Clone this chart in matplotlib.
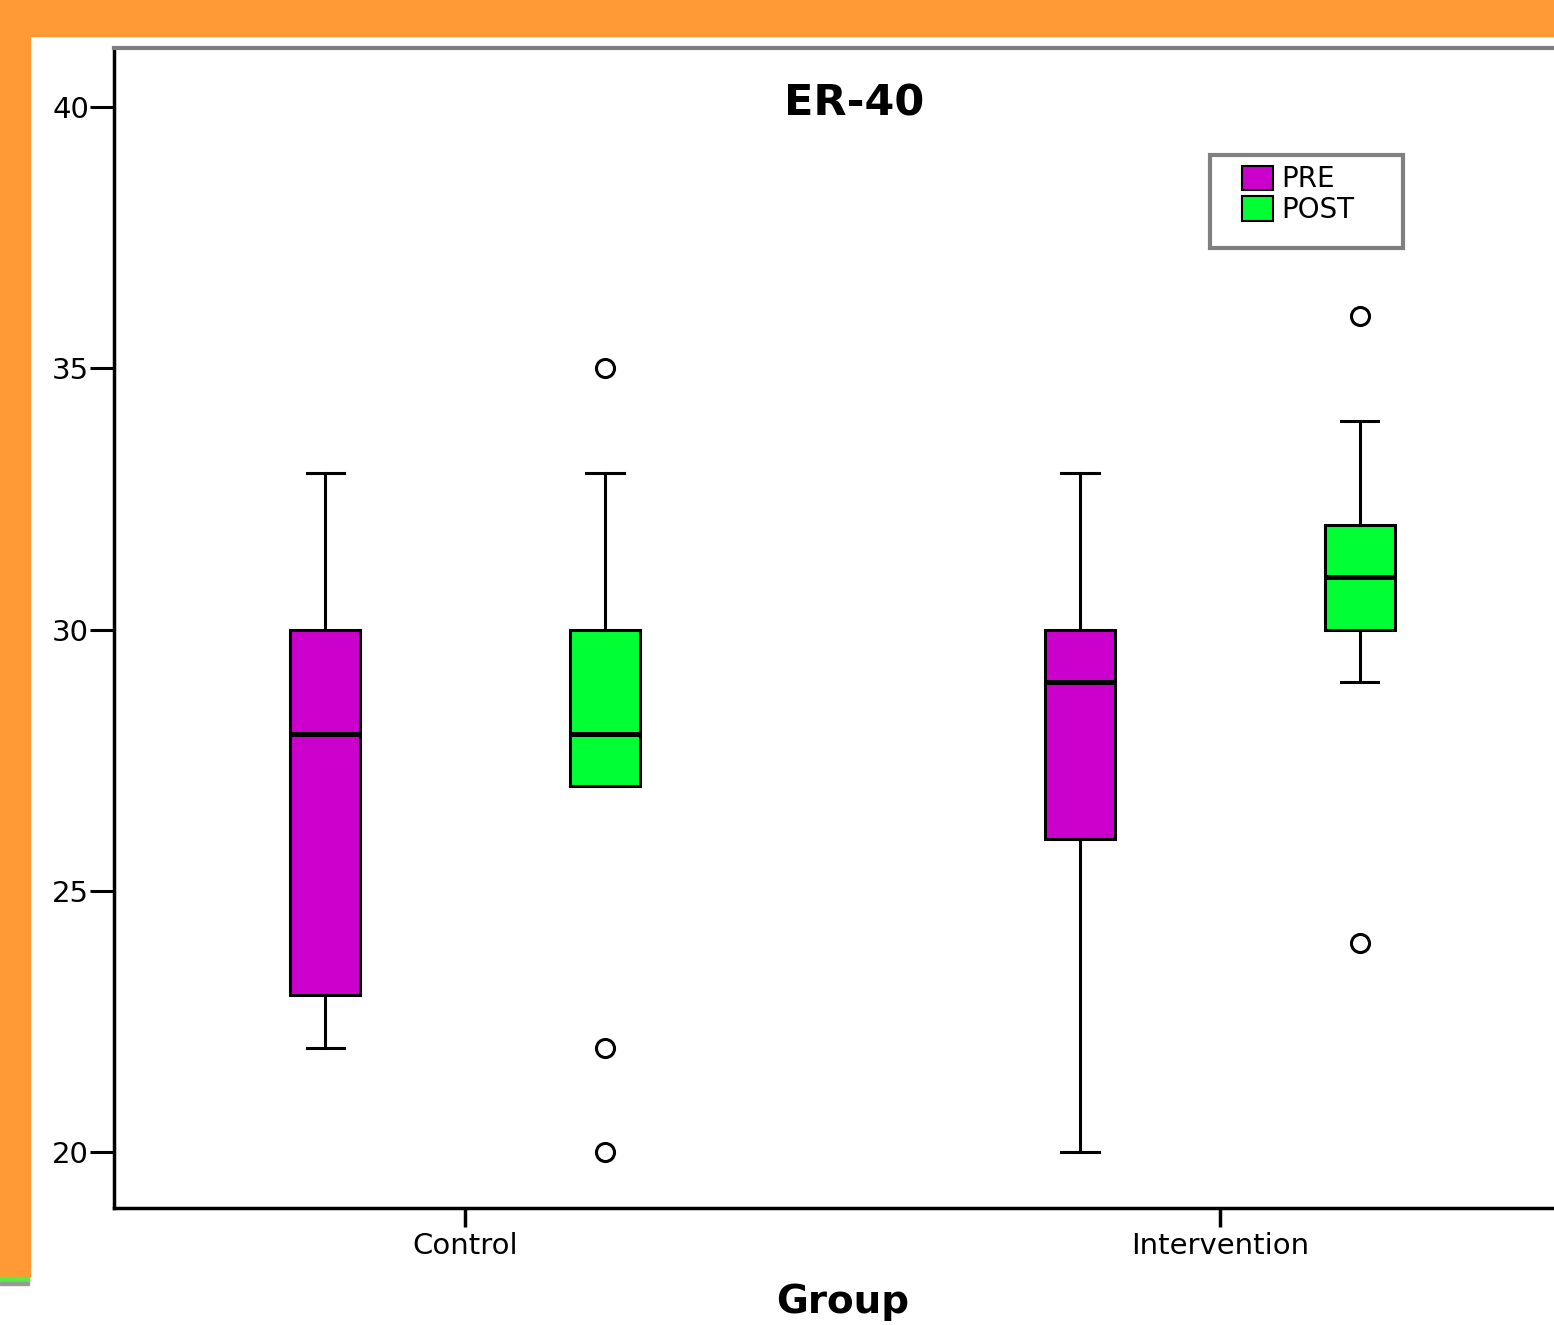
import matplotlib.pyplot as plt
from matplotlib.patches import Rectangle, Patch

plt.rcParams['font.family'] = ['DejaVu Sans']

# Data
groups = ['Control', 'Intervention']
series = ['PRE', 'POST']
colors = ['#CC00CC', '#00FF33']

pre_low = [22, 20]
pre_q1 = [23, 26]
pre_med = [28, 29]
pre_q3 = [30, 30]
pre_high = [33, 33]
pre_out = [[], []]

post_low = [27, 29]
post_q1 = [27, 30]
post_med = [28, 31]
post_q3 = [30, 32]
post_high = [33, 34]
post_out = [[35, 22, 20], [36, 24]]

W, H = 1554, 1325
fig = plt.figure(figsize=(W / 100, H / 100), dpi=100)

# orange frame of the slide
def px_rect(x0, y0, x1, y1, color):
    fig.patches.append(Rectangle((x0 / W, 1 - y1 / H), (x1 - x0) / W, (y1 - y0) / H,
                                 transform=fig.transFigure, color=color, zorder=0))

px_rect(0, 0, W, 36, '#FF9A35')
px_rect(0, 0, 30, 1277, '#FF9A35')
px_rect(0, 1277, 29, 1282, '#55EE44')
px_rect(0, 1282, 29, 1285, '#999999')

ax = fig.add_axes([114 / W, 1 - 1208 / H, (1571 - 114) / W, (1208 - 48) / H])

def make_stats(low, q1, med, q3, high, out):
    return [dict(whislo=low[i], q1=q1[i], med=med[i], q3=q3[i], whishi=high[i], fliers=out[i])
            for i in range(len(groups))]

offset = 0.185
for k, (stats, pos) in enumerate([
        (make_stats(pre_low, pre_q1, pre_med, pre_q3, pre_high, pre_out), [-offset, 1 - offset]),
        (make_stats(post_low, post_q1, post_med, post_q3, post_high, post_out), [offset, 1 + offset])]):
    ax.bxp(stats, positions=pos, widths=0.093, patch_artist=True, capwidths=0.05,
           boxprops=dict(facecolor=colors[k], edgecolor='black', linewidth=2.2),
           medianprops=dict(color='black', linewidth=3.6, solid_capstyle='butt'),
           whiskerprops=dict(color='black', linewidth=2.2),
           capprops=dict(color='black', linewidth=2.2),
           flierprops=dict(marker='o', markerfacecolor='none', markeredgecolor='black',
                           markersize=13, markeredgewidth=2.2))

ax.set_xlim(-0.465, 1.465)
ax.set_ylim(18.93, 41.13)
ax.set_xticks([0, 1])
ax.set_xticklabels(groups, fontsize=21)
ax.set_yticks([20, 25, 30, 35, 40])
ax.tick_params(axis='y', length=17, width=2.2, labelsize=21, pad=1)
ax.tick_params(axis='x', length=14, width=2.5, labelsize=21, pad=3)

for s in ['left', 'bottom']:
    ax.spines[s].set_linewidth(2.5)
ax.spines['top'].set_color('#808080')
ax.spines['top'].set_linewidth(3)
ax.spines['right'].set_visible(False)

ax.text(0.508, 0.952, 'ER-40', transform=ax.transAxes, ha='center', va='center',
        fontsize=31, fontweight='bold')
ax.set_xlabel('Group', fontsize=28, fontweight='bold', labelpad=17)

# legend
fig.patches.append(Rectangle((1210 / W, 1 - 248 / H), 193 / W, 93 / H, transform=fig.transFigure,
                             facecolor='none', edgecolor='#808080', linewidth=3, zorder=5))
handles = [Patch(facecolor=c, edgecolor='black', linewidth=1.5) for c in colors]
ax.legend(handles, series, frameon=False, fontsize=20, loc='upper left',
          bbox_to_anchor=(1223 / W, 1 - 146 / H), bbox_transform=fig.transFigure,
          handlelength=1.1, handleheight=1.0, handletextpad=0.3, labelspacing=0.1,
          borderpad=0.2)

fig.savefig('out.png', dpi=100)
